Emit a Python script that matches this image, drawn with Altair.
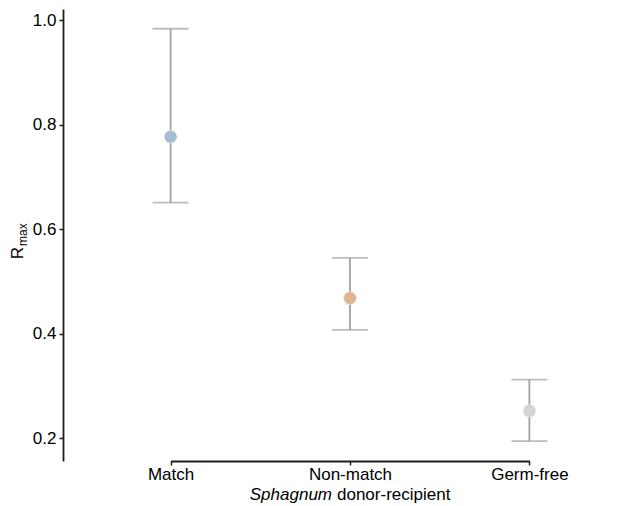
import altair as alt
import pandas as pd

# ---- data ----
groups = ["Match", "Non-match", "Germ-free"]
mean_vals = [0.777, 0.468, 0.252]
lower_vals = [0.651, 0.407, 0.194]
upper_vals = [0.984, 0.545, 0.312]
point_colors = ["#a7bdd6", "#e0b593", "#d4d4d4"]
y_ticks = [0.2, 0.4, 0.6, 0.8, 1.0]
x_title_italic = ["Sphagnum"]
x_title_plain = ["donor-recipient"]
y_title_main = ["R"]
y_title_sub = ["max"]

df = pd.DataFrame({"group": groups, "mean": mean_vals,
                   "lower": lower_vals, "upper": upper_vals})

W, H = 566, 452
PAD_L, PAD_T, PAD_B = 55, 1, 46
FONT = "Liberation Sans"
ERR = "#a0a0a0"
AX = "#1e1e1e"
FS = 17

x_axis = alt.Axis(title=None, labelAngle=0, labelFontSize=FS, labelPadding=1,
                  grid=False, domainColor=AX, domainWidth=1.8, domainOpacity=1,
                  tickColor=AX, tickWidth=1.5, tickSize=4)
y_axis = alt.Axis(title=None, values=y_ticks, format=".1f", grid=False,
                  labelFontSize=FS, labelPadding=3,
                  domainColor=AX, domainWidth=1.8, domainOpacity=1,
                  tickColor=AX, tickWidth=1.5, tickSize=4)

x_enc = alt.X("group:N", sort=groups,
              scale=alt.Scale(type="point", range=[107.6, 466.4], padding=0),
              axis=x_axis)
y_scale = alt.Scale(domain=[0.156, 1.0218], nice=False, zero=False)

base = alt.Chart(df)

bars = base.mark_rule(color=ERR, strokeWidth=1.8).encode(
    x=x_enc,
    y=alt.Y("lower:Q", scale=y_scale, axis=y_axis),
    y2="upper:Q",
)
cap_hi = base.mark_tick(color=ERR, size=36, thickness=1.8).encode(
    x=x_enc, y=alt.Y("upper:Q", scale=y_scale, axis=y_axis))
cap_lo = base.mark_tick(color=ERR, size=36, thickness=1.8).encode(
    x=x_enc, y=alt.Y("lower:Q", scale=y_scale, axis=y_axis))
points = base.mark_circle(size=165, opacity=1, stroke="#ececec",
                          strokeWidth=0.6).encode(
    x=x_enc,
    y=alt.Y("mean:Q", scale=y_scale, axis=y_axis),
    color=alt.Color("group:N", scale=alt.Scale(domain=groups, range=point_colors),
                    legend=None),
)

XT_Y = 491
XT_SPLIT = 269
t_it = alt.Chart(pd.DataFrame({"t": x_title_italic})).mark_text(
    font=FONT, fontSize=FS, fontStyle="italic", align="right",
    baseline="alphabetic", color="#000000").encode(
    x=alt.value(XT_SPLIT), y=alt.value(XT_Y), text="t:N")
t_pl = alt.Chart(pd.DataFrame({"t": x_title_plain})).mark_text(
    font=FONT, fontSize=FS, align="left",
    baseline="alphabetic", color="#000000").encode(
    x=alt.value(XT_SPLIT + 5), y=alt.value(XT_Y), text="t:N")
r_main = alt.Chart(pd.DataFrame({"t": y_title_main})).mark_text(
    font=FONT, fontSize=FS, angle=270, align="center",
    baseline="alphabetic", color="#000000").encode(
    x=alt.value(-40), y=alt.value(244), text="t:N")
r_sub = alt.Chart(pd.DataFrame({"t": y_title_sub})).mark_text(
    font=FONT, fontSize=12, angle=270, align="left",
    baseline="alphabetic", color="#000000").encode(
    x=alt.value(-36), y=alt.value(237), text="t:N")

chart = alt.layer(
    bars, cap_hi, cap_lo, points, t_it, t_pl, r_main, r_sub,
    view=alt.ViewBackground(stroke=None, strokeWidth=0),
).properties(
    width=W, height=H,
    autosize=alt.AutoSizeParams(type="none"),
    padding={"left": PAD_L, "top": PAD_T, "right": 0, "bottom": PAD_B},
).configure_view(strokeWidth=0, stroke=None).configure_axis(
    grid=False, labelColor="#111111", labelFont=FONT,
).configure(background="white")

chart.save("out.html", embed_options={"renderer": "svg", "actions": False})
